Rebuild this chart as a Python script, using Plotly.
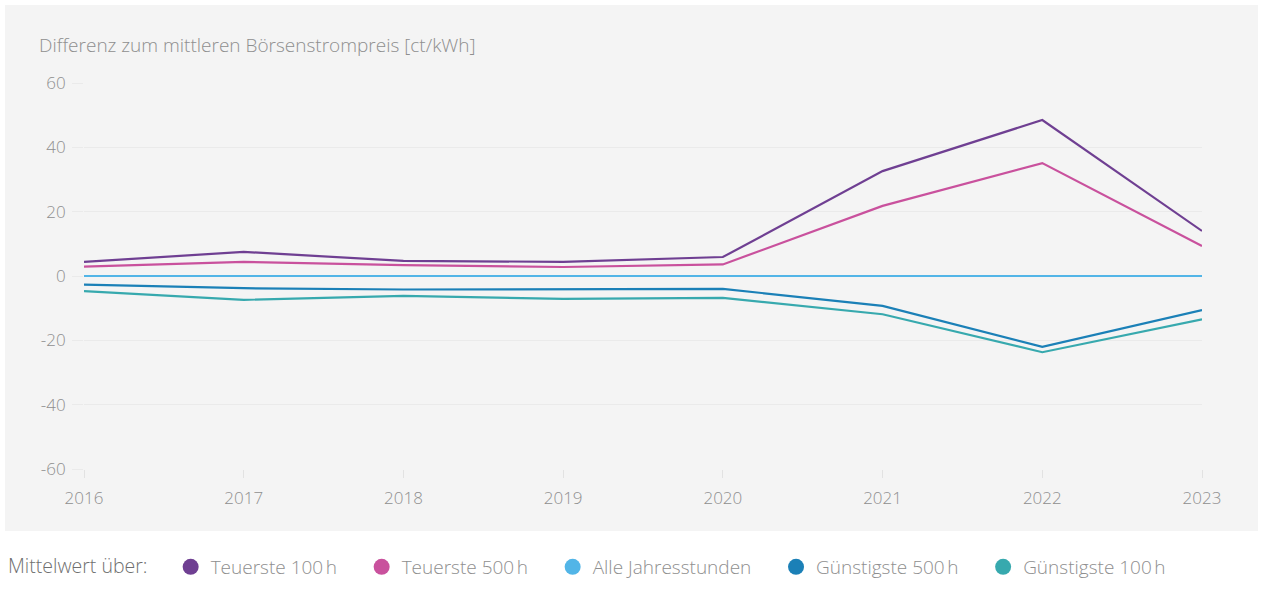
import plotly.graph_objects as go

years = [2016, 2017, 2018, 2019, 2020, 2021, 2022, 2023]
teuerste_100 = [4.4, 7.5, 4.7, 4.4, 5.9, 32.6, 48.5, 14.0]
teuerste_500 = [2.9, 4.4, 3.4, 2.8, 3.6, 21.8, 35.1, 9.3]
alle_stunden = [0, 0, 0, 0, 0, 0, 0, 0]
guenstigste_500 = [-2.7, -3.8, -4.2, -4.2, -4.0, -9.3, -22.0, -10.6]
guenstigste_100 = [-4.7, -7.4, -6.2, -7.1, -6.8, -11.9, -23.7, -13.5]

series_names = ["Teuerste 100\u202fh", "Teuerste 500\u202fh", "Alle Jahresstunden",
                "Günstigste 500\u202fh", "Günstigste 100\u202fh"]
series_values = [teuerste_100, teuerste_500, alle_stunden, guenstigste_500, guenstigste_100]
colors = ["#6f3f92", "#c9519d", "#52b5e7", "#1b80b7", "#37a9ae"]

y_ticks = [-60, -40, -20, 0, 20, 40, 60]
y_ticktext = ["-60", "-40", "-20", "0", "20", "40", "60"]

FONT = "Open Sans"
TXT = "#8f8f8f"
FS = 17

fig = go.Figure()
for name, vals, col in reversed(list(zip(series_names, series_values, colors))):
    fig.add_trace(go.Scatter(x=years, y=vals, mode="lines", name=name,
                             line=dict(color=col, width=2.2), showlegend=False,
                             hoverinfo="x+y+name"))
PAD = "\u00a0" * 4
for name, col in zip(series_names, colors):
    fig.add_trace(go.Scatter(x=[None], y=[None], mode="markers", name=name + PAD,
                             marker=dict(color=col, size=16, symbol="circle"),
                             showlegend=True))

W, H = 1261, 599
L, R, T, B = 84, 59, 83, 130
pw, ph = W - L - R, H - T - B

def px_x(p):
    return (p - L) / pw

def px_y(p):
    return (H - B - p) / ph

fig.add_shape(type="rect", xref="paper", yref="paper", layer="below",
              x0=px_x(5), x1=px_x(1258), y0=px_y(531), y1=px_y(5),
              fillcolor="#f4f4f4", line=dict(width=0))

fig.add_annotation(xref="paper", yref="paper", x=px_x(37), y=px_y(45),
                   xanchor="left", yanchor="middle", showarrow=False,
                   text="Differenz zum mittleren Börsenstrompreis [ct/kWh]",
                   font=dict(family=FONT, size=19, color=TXT, weight=300))

fig.update_layout(
    width=W, height=H,
    margin=dict(l=L, r=R, t=T, b=B, autoexpand=False),
    paper_bgcolor="white", plot_bgcolor="rgba(0,0,0,0)",
    font=dict(family=FONT, size=FS, color=TXT),
    xaxis=dict(range=[2016, 2023], tickvals=years, ticktext=[str(y) for y in years],
               showgrid=False, zeroline=False, showline=False,
               ticks="outside", ticklen=8, tickcolor="#e2e2e2", tickwidth=1,
               tickfont=dict(family=FONT, size=FS, color=TXT, weight=300),
               ticklabelstandoff=6, fixedrange=True),
    yaxis=dict(range=[-60, 60], tickvals=y_ticks, ticktext=y_ticktext, showgrid=True,
               gridcolor="#eaeaea", gridwidth=1, zeroline=False, showline=False,
               ticks="outside", ticklen=11, tickcolor="#eaeaea",
               tickfont=dict(family=FONT, size=FS, color=TXT, weight=300),
               ticklabelstandoff=3, fixedrange=True),
    legend=dict(orientation="h", x=px_x(6), xanchor="left", y=px_y(567),
                yanchor="middle", bgcolor="rgba(0,0,0,0)",
                title=dict(text="Mittelwert über:" + "\u00a0" * 3, side="left",
                           font=dict(family=FONT, size=19.5, color="#6f6f6f")),
                font=dict(family=FONT, size=19, color=TXT, weight=300),
                itemsizing="trace", traceorder="normal"),
    showlegend=True,
)

fig.write_html("out.html", config={"displayModeBar": False},
               post_script="document.body.style.margin='0';document.body.style.overflow='hidden';")
